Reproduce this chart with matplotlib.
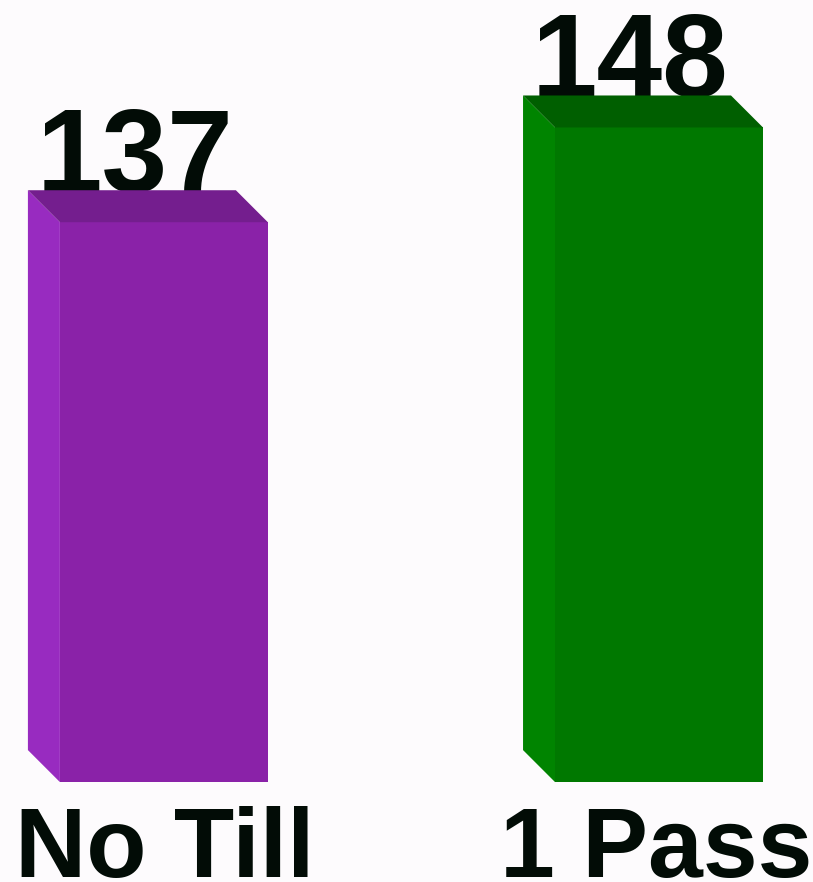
import matplotlib
matplotlib.use('Agg')
import matplotlib.pyplot as plt
from matplotlib.patches import Polygon
from matplotlib.transforms import ScaledTranslation

# Data
categories = ['No Till', '1 Pass']
values = [137, 148]
y_floor = 72  # axis started above zero in the original chart

front_colors = ['#8a22a8', '#007800']
side_colors = ['#982bc0', '#008400']
top_colors = ['#741e8e', '#005f00']
text_color = '#020c06'
bg = '#fdfbfd'

fig = plt.figure(figsize=(8.13, 8.82), dpi=100, facecolor=bg)
ax = fig.add_axes([0, 0, 1, 1])
ax.set_facecolor(bg)
ax.set_xlim(-0.331, 1.311)
ax.set_ylim(60.4, 162.8)
ax.axis('off')

bar_w = 0.42
depth = 32  # px, box depth going up-left

bars = ax.bar(range(len(values)), [v - y_floor for v in values], bottom=y_floor,
              width=bar_w, color=front_colors, zorder=3)

# side and top faces, built from the bar geometry in pixel space
for i, b in enumerate(bars):
    (x0, y0) = ax.transData.transform((b.get_x(), y_floor))
    (x1, y1) = ax.transData.transform((b.get_x() + b.get_width(), values[i]))
    side = Polygon([(x0, y1), (x0, y0), (x0 - depth, y0 + depth), (x0 - depth, y1 + depth)],
                   closed=True, transform=None, facecolor=side_colors[i], edgecolor='none', zorder=3)
    top = Polygon([(x0, y1), (x1, y1), (x1 - depth, y1 + depth), (x0 - depth, y1 + depth)],
                  closed=True, transform=None, facecolor=top_colors[i], edgecolor='none', zorder=3)
    fig.add_artist(side)
    fig.add_artist(top)

# value labels, sitting on the back edge of the box tops
for i, v in enumerate(values):
    off = ScaledTranslation(-0.29, 0.30, fig.dpi_scale_trans)
    ax.text(i, v, str(v), transform=ax.transData + off, ha='center', va='baseline',
            fontsize=85, fontweight='bold', family='Liberation Sans', color=text_color, zorder=2)

# category labels
for i, c in enumerate(categories):
    off = ScaledTranslation(0.01 if i == 0 else -0.03, -0.95, fig.dpi_scale_trans)
    ax.text(i, y_floor, c, transform=ax.transData + off, ha='center', va='baseline',
            fontsize=71, fontweight='bold', family='Liberation Sans', color=text_color)

fig.savefig('out.png', dpi=100, facecolor=bg)
